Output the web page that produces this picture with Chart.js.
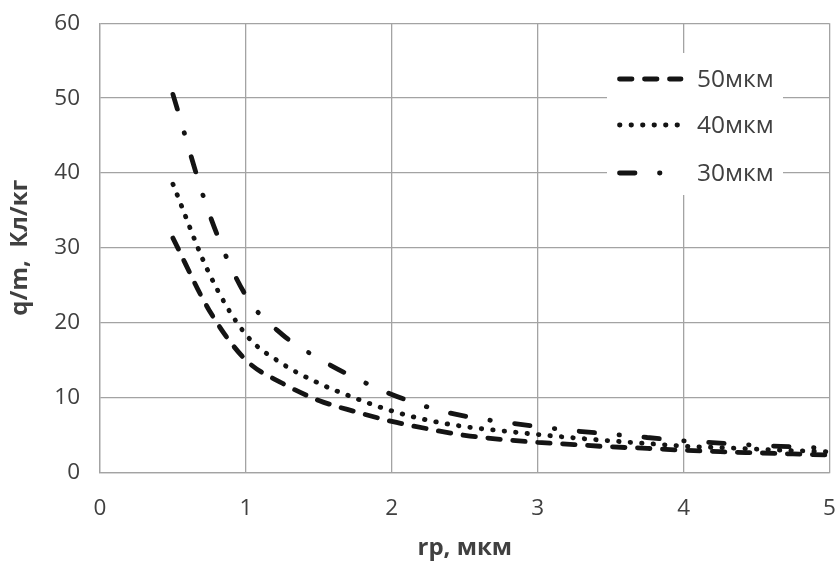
<!DOCTYPE html>
<html>
<head>
<meta charset="utf-8">
<script src="https://cdn.jsdelivr.net/npm/chart.js@4.4.1/dist/chart.umd.min.js"></script>
<style>
  html, body { margin: 0; padding: 0; background: #ffffff; }
  #wrap { width: 838px; height: 563px; position: relative; }
</style>
</head>
<body>
<div id="wrap"><canvas id="c" width="838" height="563"></canvas></div>
<script>
// ---- data ----
const xValues = [0.5, 0.75, 1.0, 1.25, 1.5, 1.75, 2.0, 2.25, 2.5, 2.75, 3.0, 3.25, 3.5, 3.75, 4.0, 4.25, 4.5, 4.75, 5.0];
const series50 = [31.3, 21.6, 15.0, 11.9, 9.6, 8.1, 6.8, 5.8, 4.95, 4.4, 4.0, 3.7, 3.4, 3.2, 2.95, 2.75, 2.6, 2.45, 2.3];
const series40 = [38.5, 26.5, 18.4, 14.5, 11.9, 9.9, 8.2, 6.95, 6.1, 5.55, 5.05, 4.6, 4.2, 3.85, 3.5, 3.3, 3.1, 2.9, 2.75];
const series30 = [50.5, 34.5, 23.6, 18.4, 15.2, 12.6, 10.4, 8.7, 7.5, 6.75, 6.1, 5.55, 5.1, 4.65, 4.2, 3.9, 3.6, 3.4, 3.2];
const seriesNames = ['50мкм', '40мкм', '30мкм'];
const xTicks = [0, 1, 2, 3, 4, 5];
const yTicks = [0, 10, 20, 30, 40, 50, 60];
const xTitle = 'rp, мкм';
const yTitle = 'q/m,  Кл/кг';

function pts(ys) { return xValues.map((x, i) => ({ x: x, y: ys[i] })); }

const lineColor = '#141414';
const gridColor = '#a3a3a3';
const textColor = '#404040';
const FONT = "'Open Sans', 'Noto Sans', sans-serif";

const datasets = [
  { label: seriesNames[0], data: pts(series50), borderColor: lineColor, borderWidth: 4.8,
    borderDash: [12.5, 12.5], borderCapStyle: 'round' },
  { label: seriesNames[1], data: pts(series40), borderColor: lineColor, borderWidth: 4.8,
    borderDash: [0.5, 11], borderCapStyle: 'round' },
  { label: seriesNames[2], data: pts(series30), borderColor: lineColor, borderWidth: 4.8,
    borderDash: [15.5, 24.5, 0.5, 24.5], borderCapStyle: 'round' }
].map(d => Object.assign(d, { fill: false, pointRadius: 0, tension: 0.4, cubicInterpolationMode: 'monotone' }));

const legendPlugin = {
  id: 'insideLegend',
  afterDraw(chart) {
    const ctx = chart.ctx;
    const boxL = 607, boxR = 783, boxT = 53, boxB = 195;
    ctx.save();
    ctx.fillStyle = '#ffffff';
    ctx.fillRect(boxL, boxT, boxR - boxL, boxB - boxT);
    const rows = [79, 125, 173];
    chart.data.datasets.forEach((ds, i) => {
      const y = rows[i];
      ctx.beginPath();
      ctx.strokeStyle = ds.borderColor;
      ctx.lineWidth = ds.borderWidth;
      ctx.lineCap = ds.borderCapStyle;
      ctx.setLineDash(ds.borderDash);
      ctx.moveTo(619.5, y);
      ctx.lineTo(681, y);
      ctx.stroke();
      ctx.setLineDash([]);
      ctx.fillStyle = textColor;
      ctx.font = "24.5px " + FONT;
      ctx.textAlign = 'left';
      ctx.textBaseline = 'middle';
      ctx.fillText(ds.label, 697, y + 1);
    });
    ctx.restore();
  }
};

function noPad(s) { s.paddingLeft = 0; s.paddingRight = 0; s.paddingTop = 0; s.paddingBottom = 0; }

new Chart(document.getElementById('c'), {
  type: 'line',
  data: { datasets: datasets },
  plugins: [legendPlugin],
  options: {
    responsive: false,
    animation: false,
    devicePixelRatio: 1,
    layout: { padding: { top: 23.3, right: 8.5, left: 0, bottom: 0 } },
    plugins: { legend: { display: false }, tooltip: { enabled: false } },
    scales: {
      x: {
        type: 'linear', min: 0, max: 5,
        afterBuildTicks(s) { s.ticks = xTicks.map(v => ({ value: v })); },
        afterFit(s) { s.height = 90.7; noPad(s); },
        ticks: { color: textColor, font: { family: FONT, size: 22.5 }, padding: 23, maxRotation: 0 },
        grid: { color: gridColor, lineWidth: 1.3, drawTicks: false },
        border: { color: gridColor, width: 1.3 },
        title: { display: true, text: xTitle, color: textColor,
          font: { family: FONT, size: 24, weight: 'bold' }, padding: { top: 0, bottom: 0 } }
      },
      y: {
        type: 'linear', min: 0, max: 60,
        afterBuildTicks(s) { s.ticks = yTicks.map(v => ({ value: v })); },
        afterFit(s) { s.width = 100; noPad(s); },
        ticks: { color: textColor, font: { family: FONT, size: 22.5 }, padding: 20 },
        grid: { color: gridColor, lineWidth: 1.3, drawTicks: false },
        border: { color: gridColor, width: 1.3 },
        title: { display: true, text: yTitle, color: textColor,
          font: { family: FONT, size: 24, weight: 'bold' }, padding: { top: 6, bottom: 0 } }
      }
    }
  }
});
</script>
</body>
</html>
